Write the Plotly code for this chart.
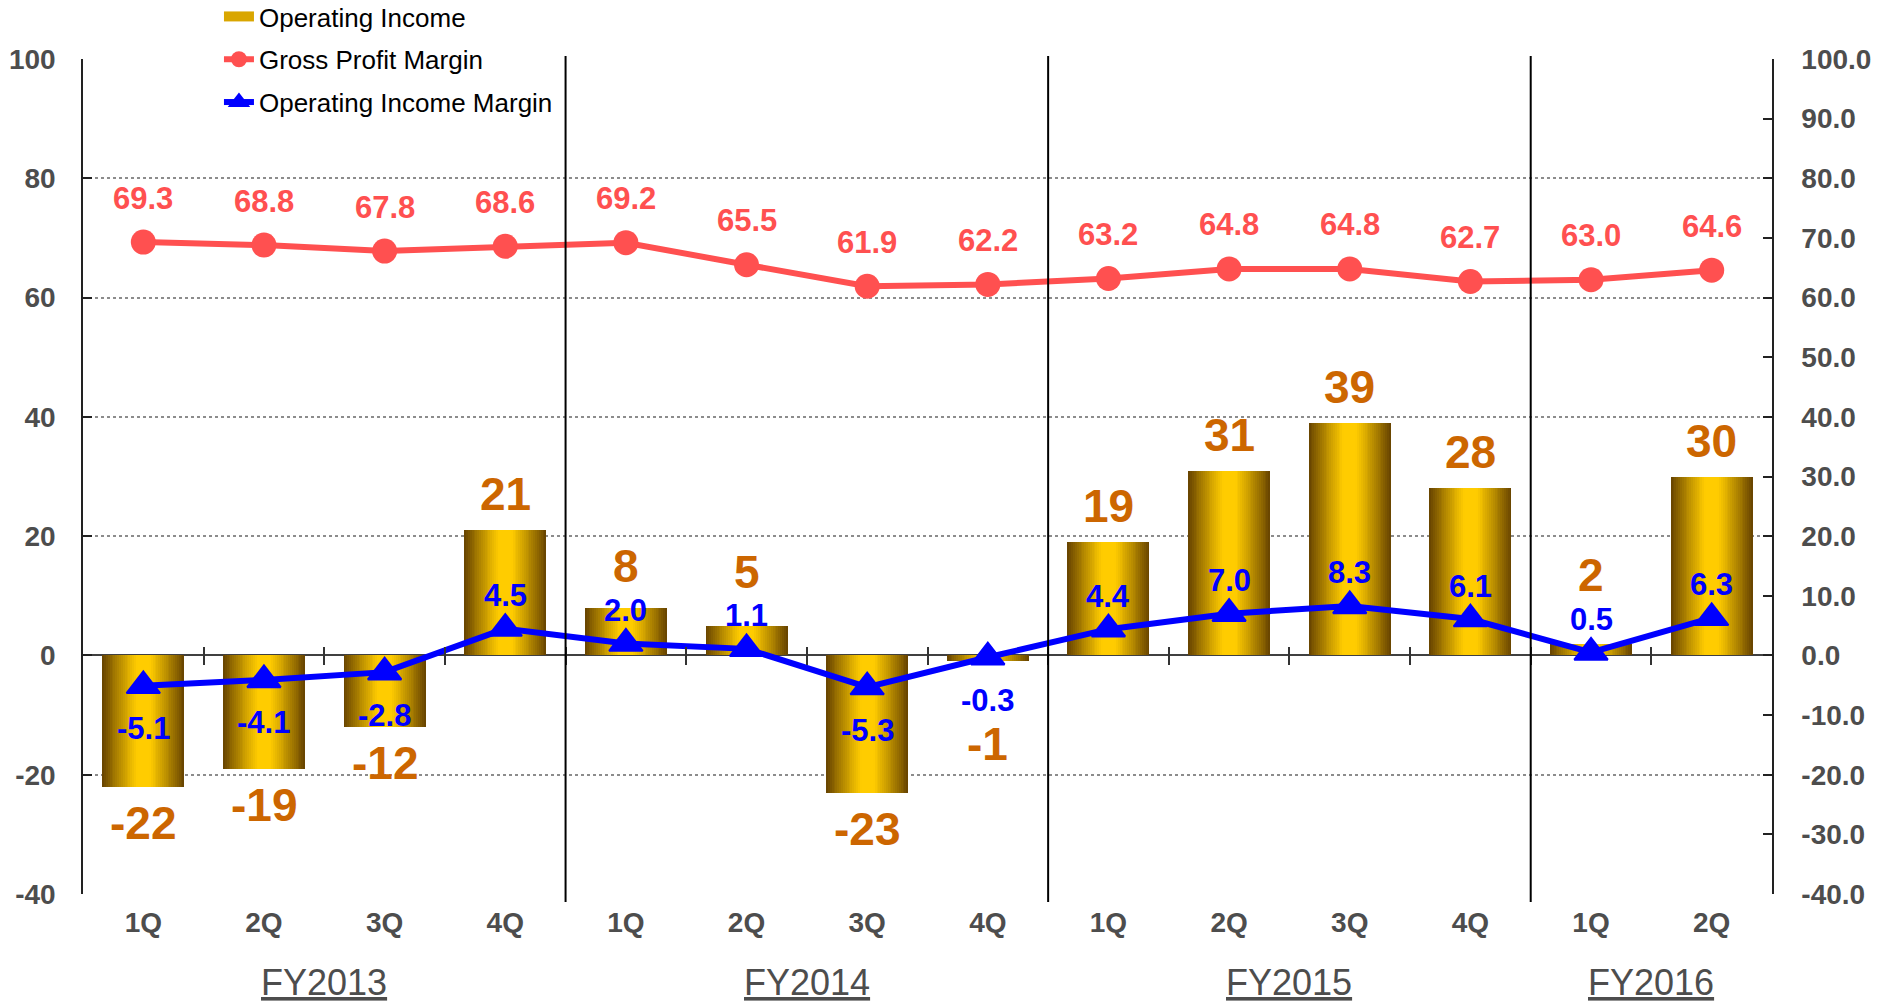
import plotly.graph_objects as go

# ---------------- data ----------------
years = ["FY2013", "FY2014", "FY2015", "FY2016"]
quarters_per_year = [4, 4, 4, 2]
quarter_labels = ["1Q", "2Q", "3Q", "4Q",
                  "1Q", "2Q", "3Q", "4Q",
                  "1Q", "2Q", "3Q", "4Q",
                  "1Q", "2Q"]
operating_income = [-22, -19, -12, 21, 8, 5, -23, -1, 19, 31, 39, 28, 2, 30]
gross_profit_margin = [69.3, 68.8, 67.8, 68.6, 69.2, 65.5, 61.9, 62.2,
                       63.2, 64.8, 64.8, 62.7, 63.0, 64.6]
operating_income_margin = [-5.1, -4.1, -2.8, 4.5, 2.0, 1.1, -5.3, -0.3,
                           4.4, 7.0, 8.3, 6.1, 0.5, 6.3]
left_ticks = [-40, -20, 0, 20, 40, 60, 80, 100]
right_ticks = [-40, -30, -20, -10, 0, 10, 20, 30, 40, 50, 60, 70, 80, 90, 100]

# ---------------- style ----------------
W, H = 1885, 1004
ML, MR, MT, MB = 83, 113, 59, 110
PLOT_H = H - MT - MB
Y_MIN, Y_MAX = -40, 100
PPU = PLOT_H / (Y_MAX - Y_MIN)
FONT = "Liberation Sans, Arial, sans-serif"
GRAY = "#4d4d4d"
RED = "#ff5050"
BLUE = "#0000ff"
ORANGE = "#cc6600"
BAR_W = 0.68
N_LAYERS = 22
EDGE = (0x66, 0x42, 0x00)
CORE = (0xff, 0xcc, 0x00)

x = list(range(len(quarter_labels)))

fig = go.Figure()

# gradient bars: overlay of progressively narrower, lighter bars
for k in range(N_LAYERS):
    frac = 1 - k / N_LAYERS
    d = 1 - (k + 0.5) / N_LAYERS
    t = max(0.0, (d - 0.15) / 0.85) ** 1.1
    col = tuple(round(CORE[j] + (EDGE[j] - CORE[j]) * t) for j in range(3))
    fig.add_trace(go.Bar(
        x=x, y=operating_income, width=BAR_W * frac,
        marker=dict(color="rgb(%d,%d,%d)" % col, line=dict(width=0)),
        showlegend=False, hoverinfo="skip", legendgroup="oi"))

# legend entry for the bars (legend only)
fig.add_trace(go.Scatter(
    x=[None], y=[None], name="Operating Income", legendgroup="oi",
    mode="lines", line=dict(color="#d9a600", width=13), legendrank=1))

fig.add_trace(go.Scatter(
    x=x, y=gross_profit_margin, yaxis="y2", mode="lines+markers",
    name="Gross Profit Margin", legendgroup="gpm", legendrank=2,
    line=dict(color=RED, width=6),
    marker=dict(symbol="circle", size=25, color=RED)))

fig.add_trace(go.Scatter(
    x=x, y=operating_income_margin, yaxis="y2", mode="lines+markers",
    name="Operating Income Margin", legendgroup="oim", legendrank=3,
    line=dict(color=BLUE, width=6),
    marker=dict(symbol="triangle-up", size=29, color=BLUE,
                line=dict(color=BLUE, width=2))))

annotations = []
# gross profit margin labels
for xi, v in zip(x, gross_profit_margin):
    annotations.append(dict(
        x=xi, y=v, xref="x", yref="y2", yshift=44, showarrow=False,
        text="%.1f" % v, font=dict(family=FONT, size=31, color=RED, weight="bold")))

# operating income margin labels
BLUE_UP, BLUE_DOWN = 33, -43
for xi, v in zip(x, operating_income_margin):
    annotations.append(dict(
        x=xi, y=v, xref="x", yref="y2", yshift=BLUE_UP if v >= 0 else BLUE_DOWN,
        showarrow=False, text="%.1f" % v,
        font=dict(family=FONT, size=31, color=BLUE, weight="bold")))

# operating income labels (pushed clear of the margin labels when close)
SEP = 44
for xi, v, m in zip(x, operating_income, operating_income_margin):
    sgn = 1 if v >= 0 else -1
    shift = sgn * 36
    blue_shift = (m - v) * PPU + (BLUE_UP if m >= 0 else BLUE_DOWN)
    if abs(shift - blue_shift) < SEP:
        shift = blue_shift + sgn * SEP
    annotations.append(dict(
        x=xi, y=v, xref="x", yref="y", yshift=shift, showarrow=False,
        text="%d" % v, font=dict(family=FONT, size=46, color=ORANGE, weight="bold")))

# fiscal year labels
start = 0
boundaries = []
for yr, n in zip(years, quarters_per_year):
    idx = x[start:start + n]
    annotations.append(dict(
        x=sum(idx) / len(idx), y=-0.106, xref="x", yref="paper",
        yanchor="middle", showarrow=False, text="<u>%s</u>" % yr,
        font=dict(family=FONT, size=36, color=GRAY)))
    start += n
    if start < len(x):
        boundaries.append(start - 0.5)

shapes = [
    # white panel behind legend hides the top gridline
    dict(type="rect", xref="paper", yref="paper", x0=0.0361, x1=0.316,
         y0=0.985, y1=1.02, fillcolor="white", line=dict(width=0), layer="between"),
]
for b in boundaries:
    shapes.append(dict(type="line", xref="x", yref="paper", x0=b, x1=b,
                       y0=-0.0096, y1=1.0036, line=dict(color="black", width=2),
                       layer="above"))

tick_pos = [i + 0.5 for i in x[:-1]]

fig.update_layout(
    width=W, height=H,
    margin=dict(l=ML, r=MR, t=MT, b=MB, pad=0, autoexpand=False),
    paper_bgcolor="white", plot_bgcolor="white",
    barmode="overlay", bargap=0,
    font=dict(family=FONT, color=GRAY),
    showlegend=True,
    legend=dict(x=0.0805, y=1.079, xanchor="left", yanchor="top",
                bgcolor="rgba(0,0,0,0)", font=dict(family=FONT, size=26, color="black"),
                traceorder="grouped", tracegroupgap=6),
    xaxis=dict(range=[-0.5, len(x) - 0.5], tickvals=x, ticktext=quarter_labels,
               ticks="", showline=False, showgrid=False, zeroline=False,
               tickfont=dict(family=FONT, size=28, color=GRAY, weight="bold"),
               ticklabelstandoff=9),
    xaxis2=dict(overlaying="x", anchor="free", position=(0 - Y_MIN) / (Y_MAX - Y_MIN) + 9 / PLOT_H,
                range=[-0.5, len(x) - 0.5], tickvals=tick_pos, ticks="outside",
                ticklen=18, tickwidth=1.5, tickcolor="#333333",
                showticklabels=False, showline=False, showgrid=False, zeroline=False),
    yaxis=dict(range=[Y_MIN, Y_MAX], tickvals=left_ticks,
               ticktext=[str(v) for v in left_ticks],
               showgrid=True, gridcolor="#8c8c8c", griddash="dot", gridwidth=1.5,
               zeroline=True, zerolinecolor="#404040", zerolinewidth=2,
               showline=True, linecolor="#222222", linewidth=1.5,
               ticks="inside", ticklen=9, tickwidth=1.5, tickcolor="#222222",
               tickfont=dict(family=FONT, size=28, color=GRAY, weight="bold"),
               ticklabelstandoff=20),
    yaxis2=dict(overlaying="y", side="right", range=[Y_MIN, Y_MAX],
                tickvals=right_ticks, ticktext=["%.1f" % v for v in right_ticks],
                showgrid=False, zeroline=False,
                showline=True, linecolor="#222222", linewidth=1.5,
                ticks="inside", ticklen=9, tickwidth=1.5, tickcolor="#222222",
                tickfont=dict(family=FONT, size=28, color=GRAY, weight="bold"),
                ticklabelstandoff=22),
    annotations=annotations,
    shapes=shapes,
)

# invisible trace so the tick-mark axis is drawn
fig.add_trace(go.Scatter(x=[None], y=[None], xaxis="x2", yaxis="y",
                         showlegend=False, hoverinfo="skip"))

fig.write_html("out.html")
